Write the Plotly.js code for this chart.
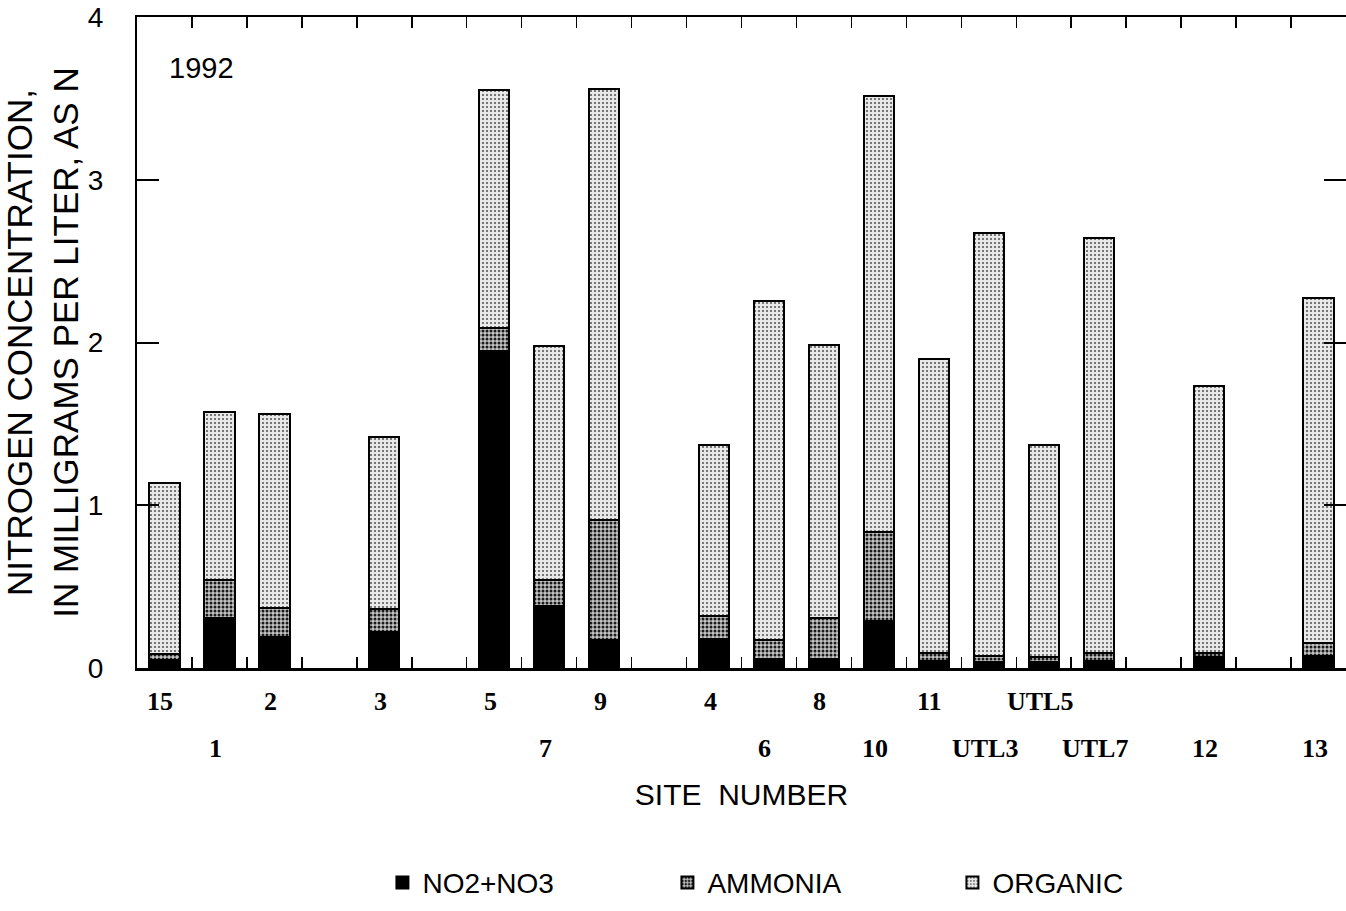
<!DOCTYPE html>
<html>
<head>
<meta charset="utf-8">
<script src="https://cdn.plot.ly/plotly-3.0.1.min.js"></script>
<style>
  html, body { margin: 0; padding: 0; background: #ffffff; }
  #chart { width: 1346px; height: 911px; }
</style>
</head>
<body>
<div id="chart"></div>
<script>
// ---- data ----
const categories = ['15','1','2','gap-a','3','gap-b','5','7','9','gap-c','4','6','8','10','11','UTL3','UTL5','UTL7','gap-d','12','gap-e','13'];
const siteLabels = ['15','1','2','','3','','5','7','9','','4','6','8','10','11','UTL3','UTL5','UTL7','','12','','13'];
const no2no3  = [0.05, 0.31, 0.19, null, 0.22, null, 1.95, 0.38, 0.17, null, 0.18, 0.055, 0.055, 0.29, 0.04, 0.037, 0.035, 0.04, null, 0.07, null, 0.076];
const ammonia = [0.036, 0.23, 0.18, null, 0.14, null, 0.14, 0.16, 0.74, null, 0.14, 0.117, 0.25, 0.545, 0.05, 0.037, 0.035, 0.05, null, 0.02, null, 0.075];
const organic = [1.05, 1.03, 1.19, null, 1.06, null, 1.46, 1.44, 2.65, null, 1.05, 2.08, 1.68, 2.68, 1.81, 2.60, 1.30, 2.55, null, 1.64, null, 2.12];
const seriesNames = ['NO2+NO3', 'AMMONIA', 'ORGANIC'];
const yearLabel = '1992';

// ---- label staggering (layout) ----
const labelRow = [0,1,0,null,0,null,0,1,0,null,0,1,0,1,0,1,0,1,null,1,null,1];

const lineStyle = {color: '#000000', width: 2};
const traces = [
  {type: 'bar', name: seriesNames[0], x: categories, y: no2no3,
   marker: {color: '#000000', line: lineStyle}},
  {type: 'bar', name: seriesNames[1], x: categories, y: ammonia,
   marker: {color: '#bdbdbd', line: lineStyle,
            pattern: {shape: '.', fgcolor: '#1a1a1a', bgcolor: '#c4c4c4', size: 4, solidity: 0.45}}},
  {type: 'bar', name: seriesNames[2], x: categories, y: organic,
   marker: {color: '#e6e6e6', line: lineStyle,
            pattern: {shape: '.', fgcolor: '#5a5a5a', bgcolor: '#e8e8e8', size: 4, solidity: 0.22}}}
];
traces.forEach(t => { t.width = 0.55; t.hoverinfo = 'x+y+name'; });

const annotations = [];
categories.forEach((c, i) => {
  if (labelRow[i] === null || !siteLabels[i]) return;
  annotations.push({
    x: i, xref: 'x', y: labelRow[i] === 0 ? -0.052 : -0.123, yref: 'paper',
    text: siteLabels[i], showarrow: false, xanchor: 'center', yanchor: 'middle', xshift: -4,
    font: {family: 'Liberation Serif', size: 26, color: '#000000', weight: 'bold'}
  });
});
annotations.push({
  x: 0.025, xref: 'paper', y: 0.922, yref: 'paper', text: yearLabel, showarrow: false,
  xanchor: 'left', yanchor: 'middle',
  font: {family: 'Liberation Sans', size: 29, color: '#000000'}
});

const layout = {
  width: 1346, height: 911,
  margin: {l: 137, r: 0, t: 17, b: 243},
  paper_bgcolor: '#ffffff', plot_bgcolor: '#ffffff',
  barmode: 'stack',
  showlegend: true,
  legend: {
    orientation: 'h', x: 0.203, xanchor: 'left', y: -0.33, yanchor: 'middle',
    entrywidth: 240, entrywidthmode: 'pixels',
    font: {family: 'Liberation Sans', size: 28, color: '#000000'},
    traceorder: 'normal'
  },
  xaxis: {
    type: 'category', categoryorder: 'array', categoryarray: categories,
    range: [-0.5, categories.length - 0.5],
    showticklabels: false, tickson: 'boundaries', ticks: 'inside', ticklen: 11, tickwidth: 1.5,
    tickcolor: '#000000',
    showline: true, linecolor: '#000000', linewidth: 2.5, mirror: 'ticks',
    showgrid: false, zeroline: false, fixedrange: true,
    title: {text: 'SITE  NUMBER', standoff: 115,
            font: {family: 'Liberation Sans', size: 30, color: '#000000'}}
  },
  yaxis: {
    range: [0, 4], dtick: 1, tick0: 0,
    ticks: 'inside', ticklen: 22, tickwidth: 2, tickcolor: '#000000',
    showline: true, linecolor: '#000000', linewidth: 2, mirror: 'ticks',
    showgrid: false, zeroline: false, fixedrange: true,
    ticklabelstandoff: 26,
    tickfont: {family: 'Liberation Sans', size: 28, color: '#000000'},
    title: {text: 'NITROGEN CONCENTRATION,<br>IN MILLIGRAMS PER LITER, AS N', standoff: 14,
            font: {family: 'Liberation Sans', size: 35, color: '#000000'}}
  },
  annotations: annotations
};

Plotly.newPlot('chart', traces, layout, {displayModeBar: false, staticPlot: true});
</script>
</body>
</html>
